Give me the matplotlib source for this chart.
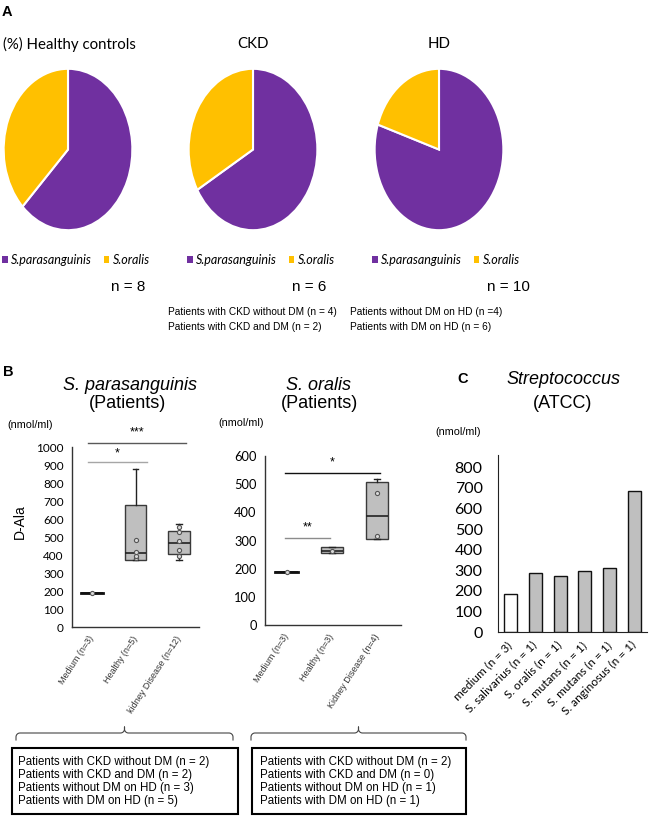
import matplotlib
matplotlib.use("Agg")
import matplotlib.pyplot as plt
from matplotlib.patches import Rectangle
import numpy as np

# ---------------- data ----------------
pie_titles = ["(%) Healthy controls", "CKD", "HD"]
species = ["S.parasanguinis", "S.oralis"]
pie_healthy = [5, 3]
pie_ckd = [4, 2]
pie_hd = [8, 2]
pie_n = ["n = 8", "n = 6", "n = 10"]
ckd_notes = ["Patients with CKD without DM (n = 4)", "Patients with CKD and DM (n = 2)"]
hd_notes = ["Patients without DM on HD (n =4)", "Patients with DM on HD (n = 6)"]

b1_categories = ["Medium (n=3)", "Healthy (n=5)", "kidney Disease (n=12)"]
b1_whislo = [188, 375, 370]
b1_q1 = [188, 375, 406]
b1_med = [188, 410, 465]
b1_q3 = [188, 680, 535]
b1_whishi = [188, 880, 575]
b1_points = [[187], [382, 397, 419, 482], [395, 430, 480, 526, 557]]
b1_sig_labels = ["***", "*"]
b1_sig_x0 = [-0.1, -0.1]
b1_sig_x1 = [2.16, 1.26]
b1_sig_y = [1024, 917]

b2_categories = ["Medium (n=3)", "Healthy (n=3)", "Kidney Disease (n=4)"]
b2_whislo = [189, 254, 305]
b2_q1 = [189, 254, 305]
b2_med = [189, 262, 388]
b2_q3 = [189, 278, 507]
b2_whishi = [189, 278, 518]
b2_points = [[189], [262], [317, 467]]
b2_sig_labels = ["*", "**"]
b2_sig_x0 = [-0.04, -0.04]
b2_sig_x1 = [2.06, 0.96]
b2_sig_y = [538, 310]

c_categories = ["medium (n = 3)", "S. salivarius (n = 1)", "S. oralis (n = 1)",
                "S. mutans (n = 1)", "S. mutans (n = 1)", "S. anginosus (n = 1)"]
c_values = [185, 285, 270, 295, 312, 685]

box_notes_1 = ["Patients with CKD without DM (n = 2)", "Patients with CKD and DM (n = 2)",
               "Patients without DM on HD (n = 3)", "Patients with DM on HD (n = 5)"]
box_notes_2 = ["Patients with CKD without DM (n = 2)", "Patients with CKD and DM (n = 0)",
               "Patients without DM on HD (n = 1)", "Patients with DM on HD (n = 1)"]

# ---------------- style ----------------
PURPLE = "#7030A0"
YELLOW = "#FFC000"
GRAY = "#BFBFBF"
ARIAL = ["Liberation Sans", "DejaVu Sans"]
CAL = ["Lato", "DejaVu Sans"]

W, H = 662, 816
fig = plt.figure(figsize=(W / 100, H / 100), dpi=100)


def add_ax(l, t, r, b, **kw):
    return fig.add_axes([l / W, 1 - b / H, (r - l) / W, (b - t) / H], **kw)


# overlay axes in pixel coordinates for free text and decorations
ov = fig.add_axes([0, 0, 1, 1], zorder=0)
ov.set_xlim(0, W)
ov.set_ylim(H, 0)
ov.axis("off")
ov.patch.set_alpha(0)

# ---------------- panel A ----------------
ov.text(2, 12, "A", fontsize=10.5, fontweight="bold", family=ARIAL, va="center", ha="left")
pie_boxes = [(3, 133), (188, 318), (374, 504)]
pie_data = [pie_healthy, pie_ckd, pie_hd]
title_x = [3, 253, 439]
title_ha = ["left", "center", "center"]
legend_x = [2, 187, 372]
n_right = [145, 326, 530]
for i in range(3):
    l, r = pie_boxes[i]
    ax = add_ax(l, 68, r, 231)
    wedges, _ = ax.pie(pie_data[i], colors=[PURPLE, YELLOW], startangle=90, counterclock=False,
                       wedgeprops=dict(edgecolor="white", linewidth=1.5), radius=1)
    ax.set_aspect("auto")
    ax.set_xlim(-1.01, 1.01)
    ax.set_ylim(-1.01, 1.01)
    ov.text(title_x[i], 44, pie_titles[i], fontsize=10.8, family=CAL, ha=title_ha[i], va="center")
    leg = ax.legend(wedges, species, loc="upper left", bbox_to_anchor=(legend_x[i] / W, 1 - 254 / H),
                    bbox_transform=fig.transFigure, ncol=2, frameon=False, borderpad=0, borderaxespad=0,
                    handlelength=0.45, handleheight=0.45, handletextpad=0.3, columnspacing=0.9,
                    prop=dict(family=CAL, style="italic", size=9))
    for h in leg.legend_handles:
        h.set_edgecolor("none")
    ov.text(n_right[i], 287, pie_n[i], fontsize=11, family=ARIAL, ha="right", va="center")

for j, s in enumerate(ckd_notes):
    ov.text(168, 312 + 15 * j, s, fontsize=7.3, family=ARIAL, ha="left", va="center")
for j, s in enumerate(hd_notes):
    ov.text(350, 312 + 15 * j, s, fontsize=7.3, family=ARIAL, ha="left", va="center")


# ---------------- panel B ----------------
def box_panel(ax, cats, wlo, q1, med, q3, whi, pts, ymax, yticks, xlim, sig_lab, sx0, sx1, sy, sig_col,
              star_off, ytick_size):
    stats = []
    for k in range(len(cats)):
        stats.append(dict(whislo=wlo[k], q1=q1[k], med=med[k], q3=q3[k], whishi=whi[k], fliers=[]))
    pos = list(range(len(cats)))
    ax.bxp(stats, positions=pos, widths=0.5, patch_artist=True, showfliers=False,
           boxprops=dict(facecolor=GRAY, edgecolor="#3a3a3a", linewidth=1.0),
           medianprops=dict(color="#222222", linewidth=1.2),
           whiskerprops=dict(color="#222222", linewidth=1.0),
           capprops=dict(color="#222222", linewidth=1.0), capwidths=0.12)
    # medium group: flat line
    for k in range(len(cats)):
        if q1[k] == q3[k] and whi[k] == wlo[k]:
            ax.plot([k - 0.25, k + 0.25], [med[k], med[k]], color="#111111", linewidth=2, zorder=3)
    for k, p in enumerate(pts):
        ax.scatter([k] * len(p), p, s=9, facecolor="#D9D9D9", edgecolor="#555555", linewidth=0.8, zorder=4)
    for lab, a, b, y, c, o in zip(sig_lab, sx0, sx1, sy, sig_col, star_off):
        ax.plot([a, b], [y, y], color=c, linewidth=1.0, clip_on=False)
        ax.text((a + b) / 2, y + o, lab, ha="center", va="center", fontsize=9, family=ARIAL, clip_on=False)
    ax.set_ylim(0, ymax)
    ax.set_yticks(yticks)
    ax.set_xlim(*xlim)
    ax.set_xticks(pos)
    ax.set_xticklabels(cats, rotation=57, ha="right", va="center", rotation_mode="anchor",
                       fontsize=6.5, family=ARIAL, color="#333333")
    for t in ax.get_yticklabels():
        t.set_family(CAL)
        t.set_fontsize(ytick_size)
    ax.tick_params(axis="both", length=0)
    ax.tick_params(axis="x", pad=7)
    ax.tick_params(axis="y", pad=6)
    for s in ["top", "right"]:
        ax.spines[s].set_visible(False)
    for s in ["left", "bottom"]:
        ax.spines[s].set_color("#333333")
        ax.spines[s].set_linewidth(1.0)
    ax.patch.set_alpha(0)


ax1 = add_ax(72, 447, 199, 627)
box_panel(ax1, b1_categories, b1_whislo, b1_q1, b1_med, b1_q3, b1_whishi, b1_points, 1000,
          np.arange(0, 1001, 100), (-0.46, 2.46), b1_sig_labels, b1_sig_x0, b1_sig_x1, b1_sig_y,
          ["#595959", "#A6A6A6"], [58, 45], 8.5)

ax2 = add_ax(265, 456, 401, 625)
box_panel(ax2, b2_categories, b2_whislo, b2_q1, b2_med, b2_q3, b2_whishi, b2_points, 600,
          np.arange(0, 601, 100), (-0.48, 2.53), b2_sig_labels, b2_sig_x0, b2_sig_x1, b2_sig_y,
          ["#111111", "#8C8C8C"], [40, 35], 9.3)

ov.text(3, 372, "B", fontsize=10.5, fontweight="bold", family=ARIAL, va="center", ha="left")
ov.text(130, 385, "S. parasanguinis", fontsize=13, style="italic", family=ARIAL, ha="center", va="center")
ov.text(128, 404, "(Patients)", fontsize=13, family=ARIAL, ha="center", va="center")
ov.text(30, 425, "(nmol/ml)", fontsize=7.8, family=ARIAL, ha="center", va="center")
ov.text(20, 522, "D-Ala", fontsize=10, family=ARIAL, ha="center", va="center", rotation=90)
ov.text(318, 385, "S. oralis", fontsize=13, style="italic", family=ARIAL, ha="center", va="center")
ov.text(320, 404, "(Patients)", fontsize=13, family=ARIAL, ha="center", va="center")
ov.text(241, 423, "(nmol/ml)", fontsize=7.8, family=ARIAL, ha="center", va="center")

# ---------------- panel C ----------------
ax3 = add_ax(498, 455, 647, 632)
xs = np.arange(len(c_values))
ax3.bar(xs, c_values, width=0.52, color=["white"] + [GRAY] * (len(c_values) - 1),
        edgecolor="#111111", linewidth=1.0)
ax3.set_xlim(-0.5, len(c_values) - 0.5)
ax3.set_ylim(0, 860)
ax3.set_yticks(np.arange(0, 801, 100))
ax3.set_xticks(xs)
ax3.set_xticklabels(c_categories, rotation=45, ha="right", va="center", rotation_mode="anchor",
                    fontsize=8.5, family=CAL)
for t in ax3.get_yticklabels():
    t.set_family(CAL)
    t.set_fontsize(11.5)
ax3.tick_params(axis="both", length=0)
ax3.tick_params(axis="x", pad=8)
ax3.tick_params(axis="y", pad=11)
for s in ["top", "right"]:
    ax3.spines[s].set_visible(False)
for s in ["left", "bottom"]:
    ax3.spines[s].set_color("#222222")
ax3.patch.set_alpha(0)

ov.text(463, 379, "C", fontsize=10.5, fontweight="bold", family=ARIAL, va="center", ha="center")
ov.text(563, 380, "Streptococcus", fontsize=13, style="italic", family=ARIAL, ha="center", va="center")
ov.text(563, 404, "(ATCC)", fontsize=13, family=ARIAL, ha="center", va="center")
ov.text(458, 432, "(nmol/ml)", fontsize=7.8, family=ARIAL, ha="center", va="center")


# ---------------- braces and boxes ----------------
def brace(x0, x1, y, h=7, tip=6):
    xc = (x0 + x1) / 2
    ts = np.linspace(0, np.pi / 2, 12)
    r = 4
    pts_x = [x0, x0]
    pts_y = [y + h, y + r]
    pts_x += list(x0 + r - r * np.cos(ts))
    pts_y += list(y + r - r * np.sin(ts))
    pts_x += [xc - r]
    pts_y += [y]
    pts_x += list(xc - r + r * np.sin(ts))
    pts_y += list(y - r + r * np.cos(ts))
    pts_x += [xc, xc]
    pts_y += [y - tip, y - tip]
    rx = [2 * xc - v for v in pts_x[::-1]]
    ry = pts_y[::-1]
    ov.plot(pts_x + rx, pts_y + ry, color="#444444", linewidth=0.8)


brace(16, 233, 733)
brace(251, 466, 733)
ov.add_patch(Rectangle((12, 748), 226, 66, fill=False, edgecolor="black", linewidth=1.5))
ov.add_patch(Rectangle((252, 748), 214, 66, fill=False, edgecolor="black", linewidth=1.5))
for j, s in enumerate(box_notes_1):
    ov.text(18, 762 + 13 * j, s, fontsize=8.3, family=ARIAL, ha="left", va="center")
for j, s in enumerate(box_notes_2):
    ov.text(260, 762 + 13 * j, s, fontsize=8.3, family=ARIAL, ha="left", va="center")

fig.savefig("out.png", dpi=100)
